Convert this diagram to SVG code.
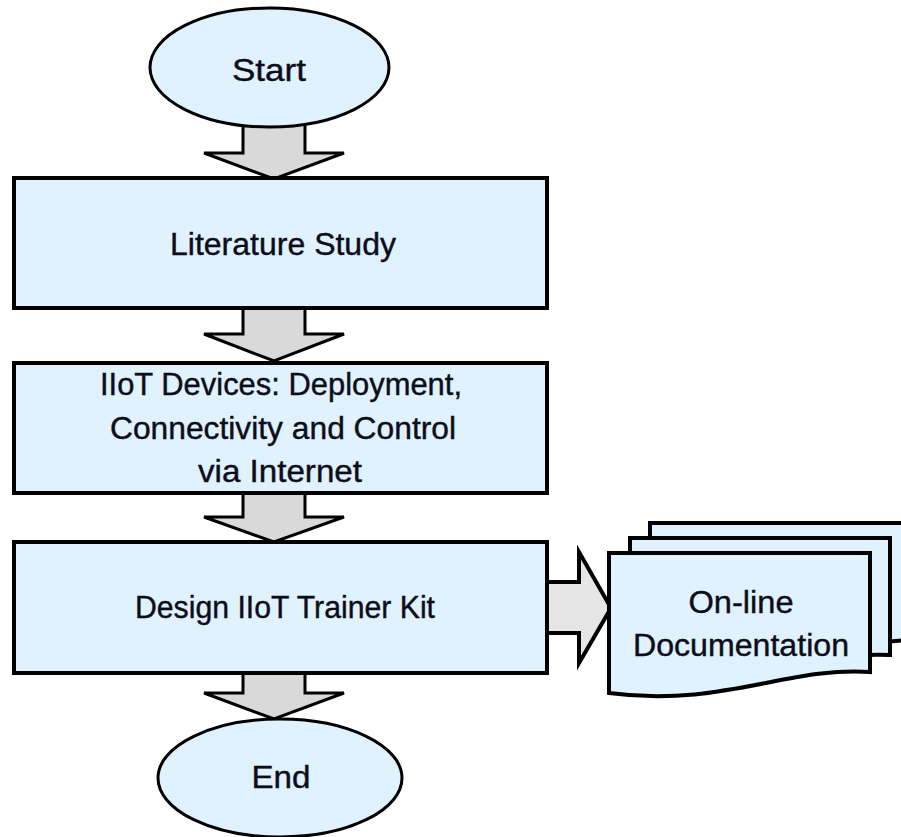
<svg xmlns="http://www.w3.org/2000/svg" width="901" height="837" viewBox="0 0 901 837">
<style>
.node{fill:#e0f2fd;stroke:#000;stroke-width:4}
.term{fill:#e0f2fd;stroke:#000;stroke-width:3}
.arrow{fill:#d9d9d9;stroke:#000;stroke-width:3;stroke-linejoin:miter}
.harrow{fill:#e6e6e6;stroke:#000;stroke-width:4;stroke-linejoin:miter}
.doc{fill:#e0f2fd;stroke:#000;stroke-width:4}
text{font-family:"Liberation Sans",Arial,sans-serif;font-size:31px;fill:#0d0d1a;stroke:#0d0d1a;stroke-width:0.4;text-anchor:middle}
</style>
<rect width="901" height="837" fill="#fff"/>
<g id="connectors">
  <polygon class="arrow" points="243,124 305,124 305,153 344,153 274,179 204,153 243,153"/>
  <polygon class="arrow" points="243,308 305,308 305,334 344,334 274,361 204,334 243,334"/>
  <polygon class="arrow" points="243,493 305,493 305,517 344,517 274,542 204,517 243,517"/>
  <polygon class="arrow" points="243,673 305,673 305,693 344,693 274,719 204,693 243,693"/>
  <polygon class="harrow" points="547,582 579,582 579,552 611,608 579,663 579,633 547,633"/>
</g>
<g id="start">
  <ellipse class="term" cx="269.5" cy="67.5" rx="119.5" ry="59.5"/>
  <text x="269" y="81" textLength="74" lengthAdjust="spacingAndGlyphs">Start</text>
</g>
<g id="literature">
  <rect class="node" x="14" y="178" width="533" height="130"/>
  <text x="283" y="255" textLength="226" lengthAdjust="spacingAndGlyphs">Literature Study</text>
</g>
<g id="iiot">
  <rect class="node" x="14" y="363" width="533" height="130"/>
  <text x="281" y="395" textLength="362" lengthAdjust="spacingAndGlyphs">IIoT Devices: Deployment,</text>
  <text x="283" y="439" textLength="346" lengthAdjust="spacingAndGlyphs">Connectivity and Control</text>
  <text x="280" y="482" textLength="164" lengthAdjust="spacingAndGlyphs">via Internet</text>
</g>
<g id="design">
  <rect class="node" x="14" y="542" width="533" height="131"/>
  <text x="285" y="618" textLength="300" lengthAdjust="spacingAndGlyphs">Design IIoT Trainer Kit</text>
</g>
<g id="documentation">
  <path class="doc" d="M650,523 H935 V640 C855,636 785,672 650,663 Z"/>
  <path class="doc" d="M630,538 H890 V655 C810,651 740,687 630,678 Z"/>
  <path class="doc" d="M609,553 H870 V672 C790,666 720,708 609,693 Z"/>
  <text x="741" y="613" textLength="105" lengthAdjust="spacingAndGlyphs">On-line</text>
  <text x="741" y="656" textLength="216" lengthAdjust="spacingAndGlyphs">Documentation</text>
</g>
<g id="end">
  <ellipse class="term" cx="280" cy="778" rx="122" ry="59"/>
  <text x="281" y="788" textLength="59" lengthAdjust="spacingAndGlyphs">End</text>
</g>
</svg>
